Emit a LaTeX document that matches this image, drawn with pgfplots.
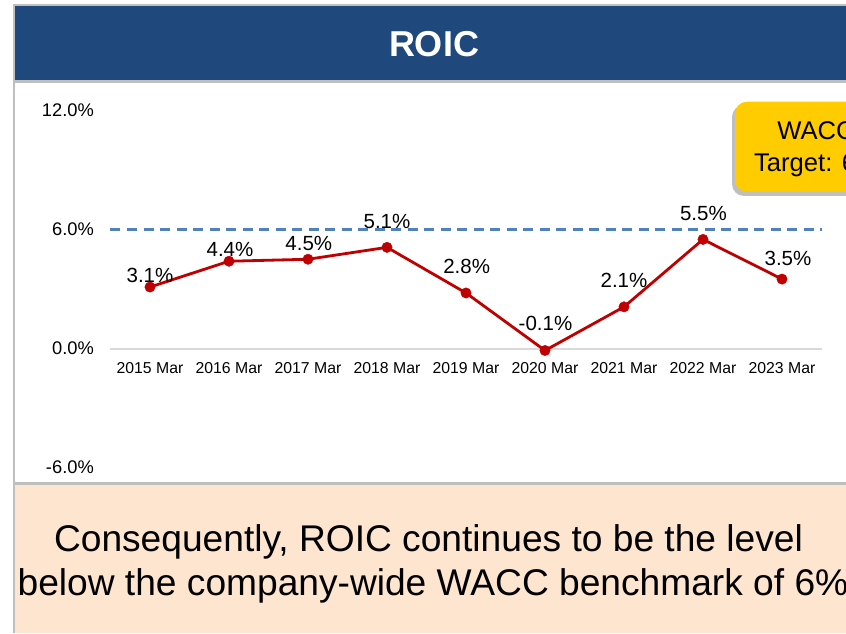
\documentclass[border=0pt]{standalone}
\usepackage{fontspec}
\setmainfont{Liberation Sans}
\usepackage{pgfplots}
\pgfplotsset{compat=1.18}
\usepackage{pgfplotstable}

\definecolor{banner}{HTML}{1F497D}
\definecolor{peach}{HTML}{FDE5D0}
\definecolor{framegray}{HTML}{BFBFBF}
\definecolor{zerogray}{HTML}{D9D9D9}
\definecolor{roicred}{HTML}{C00000}
\definecolor{waccblue}{HTML}{4F81BD}
\definecolor{boxyellow}{HTML}{FFCC00}

\pgfplotstableread{
x y lab dy dx
0 3.1 3.1 12 0
1 4.4 4.4 11.5 1
2 4.5 4.5 15.7 0.8
3 5.1 5.1 26 0
4 2.8 2.8 26.3 0.7
5 -0.1 -0.1 26.7 0.5
6 2.1 2.1 26.4 0
7 5.5 5.5 25.5 0.4
8 3.5 3.5 20.7 6
}\roicdata

\begin{document}
\begin{tikzpicture}[x=1pt,y=1pt]
\useasboundingbox (0,0) rectangle (846,633);
\clip (0,0) rectangle (846,633);
\fill[white] (0,0) rectangle (846,633);
% peach box
\fill[peach] (14,0) rectangle (846,149);
% banner
\fill[banner] (14,552.5) rectangle (846,626.5);
% frame lines
\draw[framegray, line width=2] (14,627.5) -- (846,627.5);
\draw[framegray, line width=3] (14,551) -- (846,551);
\draw[framegray, line width=3] (14,149.5) -- (846,149.5);
\draw[framegray, line width=2] (14,0) -- (14,628.5);
% title
\node[anchor=base, text=white, font=\fontsize{36}{40}\selectfont\bfseries, inner sep=0pt] at (434,576) {ROIC};
% yellow box
\fill[black, opacity=0.25, rounded corners=12] (732,437) rectangle (893,528);
\fill[boxyellow, rounded corners=12] (735,441.3) rectangle (896,531.3);
\node[anchor=base, font=\fontsize{25.6}{30}\selectfont, inner sep=0pt] at (816,493) {WACC};
\node[anchor=base, font=\fontsize{25.6}{30}\selectfont, inner sep=0pt] at (816.5,461.3) {Target: 6\%};
% bottom text
\node[anchor=base, font=\fontsize{37.15}{44}\selectfont, inner sep=0pt] at (428.5,81.3) {Consequently, ROIC continues to be the level};
\node[anchor=base, font=\fontsize{37.15}{44}\selectfont, inner sep=0pt] at (433,38) {below the company-wide WACC benchmark of 6\%};

\begin{axis}[
  at={(110.5pt,165.5pt)}, anchor=south west,
  scale only axis, width=711pt, height=357pt,
  xmin=-0.5, xmax=8.5, ymin=-6, ymax=12,
  axis x line=middle, axis y line=left,
  x axis line style={draw=zerogray, line width=2pt, -},
  y axis line style={draw=none},
  xtick={0,1,2,3,4,5,6,7,8},
  xticklabels={2015 Mar,2016 Mar,2017 Mar,2018 Mar,2019 Mar,2020 Mar,2021 Mar,2022 Mar,2023 Mar},
  ytick={-6,0,6,12},
  yticklabels={-6.0\%,0.0\%,6.0\%,12.0\%},
  major tick length=0pt, tick style={draw=none},
  /pgf/number format/assume math mode=true,
  xticklabel style={font=\fontsize{15.8}{18}\selectfont, anchor=base, inner sep=0pt, yshift=-24.8pt},
  yticklabel style={font=\fontsize{18.3}{21}\selectfont, anchor=east, inner sep=0pt, xshift=-16.5pt},
  clip=false,
]
\addplot[color=waccblue, line width=2.5pt, dash pattern=on 10pt off 6.5pt, forget plot] coordinates {(-0.5,6) (8.5,6)};
\addplot[color=roicred, line width=2.8pt, mark=*, mark size=5.2pt,
  mark options={solid, fill=roicred, draw=roicred, line width=0.4pt},
  point meta=explicit symbolic,
  visualization depends on={\thisrow{dy} \as \dy},
  visualization depends on={\thisrow{dx} \as \dx},
  nodes near coords={\pgfplotspointmeta\%},
  every node near coord/.append style={anchor=center, yshift=\dy pt, xshift=\dx pt, font=\fontsize{20.5}{24}\selectfont, text=black, inner sep=0pt},
] table[x=x, y=y, meta=lab] {\roicdata};
\end{axis}
\end{tikzpicture}
\end{document}
